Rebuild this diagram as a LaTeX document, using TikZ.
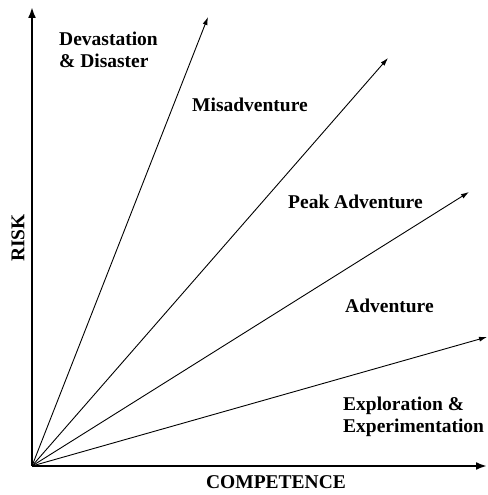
\documentclass[tikz,border=0pt]{standalone}
\usepackage{fontspec}
\setmainfont{Liberation Serif}
\usetikzlibrary{arrows.meta}

\begin{document}
\begin{tikzpicture}[x=1pt, y=1pt,
        zone/.style={font=\bfseries\fontsize{19.5}{22.5}\selectfont, align=left, anchor=west, inner sep=0pt},
        axislabel/.style={font=\bfseries\fontsize{19.5}{22.5}\selectfont, inner sep=0pt},
        ray/.style={-{Latex[length=8pt, width=5pt]}, line width=0.9pt},
        axis/.style={-{Latex[length=11pt, width=8pt]}, line width=2.8pt}]
        \useasboundingbox (0, 0) rectangle (487, 495);

        \coordinate (origin) at (32, 29);
        \coordinate (ytip) at (32, 488);
        \coordinate (xtip) at (487, 29);
        \draw[axis] (origin) -- (ytip);
        \draw[axis] (origin) -- (xtip);

        \coordinate (r1) at (208, 478);
        \coordinate (r2) at (388, 437);
        \coordinate (r3) at (469, 303);
        \coordinate (r4) at (487, 158);
        \foreach \r in {r1, r2, r3, r4} {
            \draw[ray] (origin) -- (\r);
        }

        \node[zone] (devastation) at (59, 445) {Devastation\\\& Disaster};
        \node[zone] (misadventure) at (192, 390) {Misadventure};
        \node[zone] (peak) at (288, 293) {Peak Adventure};
        \node[zone] (adventure) at (345, 189) {Adventure};
        \node[zone] (exploration) at (343, 78) {Exploration \&\\Experimentation};

        \node[axislabel] (competence) at (276, 13) {COMPETENCE};
        \node[axislabel, rotate=90] (risk) at (18, 257) {RISK};
    \end{tikzpicture}
\end{document}
